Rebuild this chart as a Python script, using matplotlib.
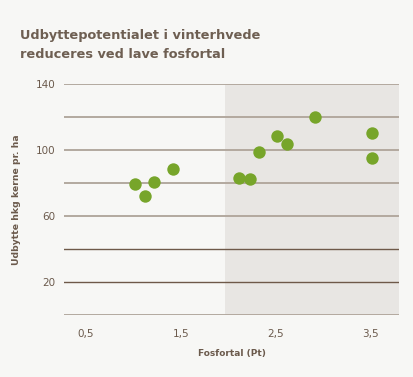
import matplotlib.pyplot as plt

# Data
fosfortal = [1.02, 1.12, 1.22, 1.42, 2.11, 2.23, 2.32, 2.51, 2.62, 2.92, 3.52, 3.52]
udbytte = [79.2, 71.9, 80.4, 88.7, 83.2, 82.6, 98.6, 108.3, 103.8, 119.8, 110.3, 95.2]

x_ticks = [0.5, 1.5, 2.5, 3.5]
x_labels = ['0,5', '1,5', '2,5', '3,5']
y_ticks = [20, 60, 100, 140]

bg = '#f7f7f5'
txt = '#6b5a4c'
plt.rcParams['font.family'] = ['DejaVu Sans']

fig = plt.figure(figsize=(4.14, 3.77), dpi=100, facecolor=bg)
ax = fig.add_axes([64 / 414, 1 - 315 / 377, 335 / 414, 231 / 377])
ax.set_facecolor(bg)
ax.set_xlim(0.27, 3.80)
ax.set_ylim(0, 140)

# shaded area for high fosfortal
ax.axvspan(1.97, 3.80, color='#e8e6e3', zorder=0, lw=0)

# grid lines
for y in [0, 60, 80, 100, 120, 140]:
    ax.axhline(y, color='#b3a99f', lw=1.4, zorder=1)
for y in [20, 40]:
    ax.axhline(y, color='#6e5949', lw=1.0, zorder=1)

ax.scatter(fosfortal, udbytte, s=80, color='#77a52a', zorder=3, linewidths=0)

for s in ax.spines.values():
    s.set_visible(False)
ax.tick_params(length=0, colors=txt, labelsize=7.5)
ax.set_xticks(x_ticks)
ax.set_xticklabels(x_labels)
ax.set_yticks(y_ticks)
ax.tick_params(axis='x', pad=10)
ax.tick_params(axis='y', pad=6)

ax.set_xlabel('Fosfortal (Pt)', color=txt, fontsize=6.5, fontweight='bold', labelpad=7)
ax.set_ylabel('Udbytte hkg kerne pr. ha', color=txt, fontsize=6.7, fontweight='bold', labelpad=11)

fig.text(20 / 414, 1 - 45 / 377, 'Udbyttepotentialet i vinterhvede\nreduceres ved lave fosfortal',
         color='#6e5f52', fontsize=9.3, fontweight='bold', va='center', linespacing=1.6)

fig.savefig('out.png', dpi=100, facecolor=bg)
